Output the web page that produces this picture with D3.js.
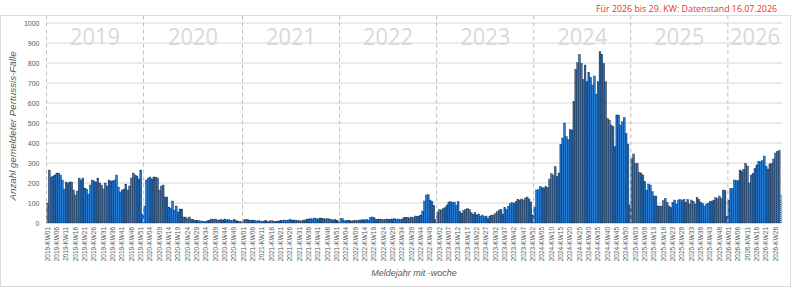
<!DOCTYPE html>
<html lang="de">
<head>
    <meta charset="UTF-8">
    <title>Pertussis-Fälle nach Meldewoche</title>
    <script src="https://d3js.org/d3.v7.min.js"></script>
    <style>
        body { margin: 0; padding: 0; background: #fff; }
        svg { display: block; font-family: "Liberation Sans", Arial, sans-serif; }
        .tick-label { fill: #595959; }
        .axis-title { fill: #595959; font-style: italic; }
        .year-label { fill: #d9d9d9; font-family: "Open Sans", sans-serif; }
    </style>
</head>
<body>
    <svg id="chart"></svg>

    <script>
        // weekly case counts per reporting year (ISO weeks, 2020 has 53)
        const years = [2019, 2020, 2021, 2022, 2023, 2024, 2025, 2026];

        const cases2019 = [100,265,230,235,240,248,250,240,215,170,205,200,205,205,165,140,160,225,215,225,
            175,170,145,190,215,210,205,225,200,190,170,200,185,215,210,210,215,240,180,155,
            165,170,195,165,185,225,250,240,235,220,265,45];
        const cases2020 = [85,215,225,230,220,230,230,225,165,185,190,130,130,80,75,110,65,85,55,70,
            70,30,30,22,30,18,18,12,14,12,10,10,8,8,12,15,20,18,20,15,
            15,18,15,20,15,18,14,12,18,12,10,8,6];
        const cases2021 = [15,18,18,15,12,15,14,10,12,10,8,10,12,8,10,12,10,8,10,10,
            12,12,15,13,15,18,15,12,15,12,12,10,15,15,20,18,22,20,25,22,
            20,25,22,22,20,22,20,18,15,18,15,10];
        const cases2022 = [22,22,12,12,14,12,10,12,14,12,15,15,16,15,18,15,28,30,26,18,
            18,20,18,17,18,20,18,20,18,22,18,20,18,20,27,26,28,25,30,27,
            35,34,35,40,60,110,140,142,115,108,88,18];
        const cases2023 = [55,68,65,72,77,90,102,107,102,105,90,107,57,48,62,68,72,68,52,43,
            52,40,45,35,40,32,35,23,35,40,40,48,57,65,68,45,77,68,85,98,
            102,98,107,118,115,120,115,125,130,120,105,40];
        const cases2024 = [80,165,168,182,178,175,182,178,220,247,238,282,232,250,392,425,500,432,418,468,
            465,607,768,802,843,798,718,790,707,752,728,690,735,645,707,857,843,798,707,523,
            515,490,482,382,540,540,490,507,528,448,395,90];
        const cases2025 = [323,345,298,298,253,250,240,207,165,195,190,157,135,135,85,85,85,112,123,102,
            85,78,102,115,95,115,118,112,118,102,118,95,115,108,95,128,118,102,98,85,
            95,100,108,110,115,127,123,135,123,165,162,32];
        const cases2026 = [115,173,173,215,212,212,265,257,268,298,285,200,240,248,273,290,307,307,312,335,
            285,270,295,298,320,350,358,362,140];

        const yTicks = [0,100,200,300,400,500,600,700,800,900,1000];
        const note = "Für 2026 bis 29. KW: Datenstand 16.07.2026";

        const series = [cases2019, cases2020, cases2021, cases2022, cases2023, cases2024, cases2025, cases2026];

        // flatten into one row per week
        const weeks = [];
        series.forEach((vals, yi) => {
            vals.forEach((v, wi) => {
                const kw = String(wi + 1).padStart(2, "0");
                weeks.push({ key: years[yi] + "-KW" + kw, year: years[yi], value: v });
            });
        });
        const lastKey = weeks[weeks.length - 1].key; // incomplete week

        const width = 800, height = 288;
        const svg = d3.select("#chart").attr("width", width).attr("height", height);

        const x = d3.scaleBand().domain(weeks.map(d => d.key)).range([46.5, 782]).padding(0);
        const y = d3.scaleLinear().domain([0, 1000]).range([223, 23]);

        const defs = svg.append("defs");
        const grad = defs.append("linearGradient").attr("id", "barFill")
            .attr("x1", 0).attr("x2", 1).attr("y1", 0).attr("y2", 0);
        grad.append("stop").attr("offset", "0%").attr("stop-color", "#0f4582");
        grad.append("stop").attr("offset", "55%").attr("stop-color", "#2a80da");
        grad.append("stop").attr("offset", "100%").attr("stop-color", "#0f4582");

        const dots = defs.append("pattern").attr("id", "dots")
            .attr("width", 2).attr("height", 2).attr("patternUnits", "userSpaceOnUse");
        dots.append("rect").attr("width", 2).attr("height", 2).attr("fill", "#b8c8da");
        dots.append("rect").attr("width", 1).attr("height", 1).attr("fill", "#1d5fa6");

        // outer frame
        svg.append("rect")
            .attr("x", 0.5).attr("y", 15.5).attr("width", 790).attr("height", 271)
            .attr("fill", "none").attr("stroke", "#dcdcdc");

        // horizontal grid
        svg.selectAll(".grid")
            .data(yTicks.filter(t => t > 0))
            .enter().append("line")
            .attr("x1", 46.5).attr("x2", 782)
            .attr("y1", d => y(d)).attr("y2", d => y(d))
            .attr("stroke", "#e4e4e4").attr("stroke-width", 1.3);

        // year labels
        svg.selectAll(".year-label")
            .data(years)
            .enter().append("text")
            .attr("class", "year-label")
            .attr("x", yr => {
                const w = weeks.filter(d => d.year === yr);
                return (x(w[0].key) + x(w[w.length - 1].key) + x.bandwidth()) / 2;
            })
            .attr("y", 44.5)
            .attr("text-anchor", "middle")
            .attr("font-size", 24.5)
            .attr("textLength", 50)
            .attr("lengthAdjust", "spacingAndGlyphs")
            .text(yr => yr);

        // bars
        svg.selectAll(".bar")
            .data(weeks)
            .enter().append("rect")
            .attr("class", "bar")
            .attr("x", d => x(d.key))
            .attr("width", x.bandwidth())
            .attr("y", d => y(d.value))
            .attr("height", d => y(0) - y(d.value))
            .attr("fill", d => d.key === lastKey ? "url(#dots)" : "url(#barFill)")
            .attr("stroke", "#1a2c45")
            .attr("stroke-width", 0.35)
            .attr("stroke-dasharray", d => d.key === lastKey ? "1,1" : null);

        // dashed year separators
        svg.selectAll(".year-line")
            .data(years)
            .enter().append("line")
            .attr("x1", yr => x(yr + "-KW01")).attr("x2", yr => x(yr + "-KW01"))
            .attr("y1", 15.5).attr("y2", 223)
            .attr("stroke", "#bdbdbd").attr("stroke-width", 1)
            .attr("stroke-dasharray", "4,3");

        // y tick labels
        svg.selectAll(".ytick")
            .data(yTicks)
            .enter().append("text")
            .attr("class", "tick-label")
            .attr("x", 39.5)
            .attr("y", d => y(d) + 2.5)
            .attr("text-anchor", "end")
            .attr("font-size", 7)
            .text(d => d);

        // x tick labels, every fifth week
        svg.selectAll(".xtick")
            .data(weeks.filter((d, i) => i % 5 === 0))
            .enter().append("text")
            .attr("class", "tick-label")
            .attr("transform", d => `translate(${x(d.key) + x.bandwidth() / 2 + 2.3},227) rotate(-90)`)
            .attr("text-anchor", "end")
            .attr("font-size", 6.5)
            .text(d => d.key);

        // axis titles
        svg.append("text")
            .attr("class", "axis-title")
            .attr("transform", "translate(16,126) rotate(-90)")
            .attr("text-anchor", "middle")
            .attr("font-size", 9.8)
            .text("Anzahl gemeldeter Pertussis-Fälle");

        svg.append("text")
            .attr("class", "axis-title")
            .attr("x", 414).attr("y", 276)
            .attr("text-anchor", "middle")
            .attr("font-size", 9)
            .text("Meldejahr mit -woche");

        // data note
        svg.append("text")
            .attr("x", 596).attr("y", 11.5)
            .attr("fill", "#e8302f")
            .attr("font-family", "'Open Sans', sans-serif")
            .attr("font-size", 9.5)
            .attr("textLength", 181)
            .attr("lengthAdjust", "spacingAndGlyphs")
            .text(note);
    </script>
</body>
</html>
